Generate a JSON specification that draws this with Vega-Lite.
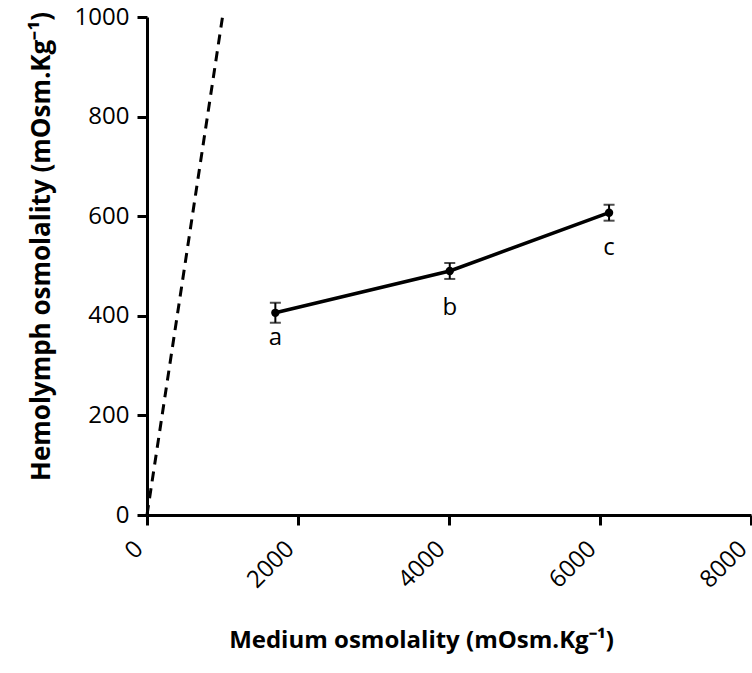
{
  "$schema": "https://vega.github.io/schema/vega-lite/v6.json",
  "width": 604,
  "height": 498,
  "autosize": {"type": "none"},
  "padding": {"left": 147, "top": 17, "right": 1, "bottom": 158},
  "background": "white",
  "config": {
    "view": {"stroke": null},
    "font": "Open Sans",
    "axis": {
      "grid": false,
      "domainColor": "black",
      "domainWidth": 3,
      "tickColor": "black",
      "tickWidth": 3,
      "tickSize": 10,
      "labelColor": "black",
      "labelFontSize": 24,
      "titleColor": "black",
      "titleFontWeight": "bold",
      "labelFlush": false,
      "labelOverlap": false,
      "format": "d"
    }
  },
  "datasets": {
    "obs": [
      {"medium": 1700, "hemo": 406, "lo": 386, "hi": 426, "group": "a", "labelY": 341},
      {"medium": 4010, "hemo": 490, "lo": 474, "hi": 506, "group": "b", "labelY": 401},
      {"medium": 6120, "hemo": 607, "lo": 591, "hi": 623, "group": "c", "labelY": 522}
    ],
    "iso": [
      {"medium": 0, "hemo": 0},
      {"medium": 1000, "hemo": 1000}
    ]
  },
  "encoding": {
    "x": {
      "field": "medium",
      "type": "quantitative",
      "scale": {"domain": [0, 8000], "nice": false},
      "axis": {
        "values": [0, 2000, 4000, 6000, 8000],
        "labelAngle": -45,
        "labelAlign": "right",
        "labelBaseline": "alphabetic",
        "labelPadding": 25,
        "labelOffset": -3,
        "title": "Medium osmolality (mOsm.Kg⁻¹)",
        "titleFontSize": 24,
        "titleX": 274,
        "titleY": 132,
        "titleBaseline": "alphabetic",
        "titleAlign": "center"
      }
    },
    "y": {
      "field": "hemo",
      "type": "quantitative",
      "scale": {"domain": [0, 1000], "nice": false},
      "axis": {
        "values": [0, 200, 400, 600, 800, 1000],
        "labelPadding": 8,
        "title": "Hemolymph osmolality (mOsm.Kg⁻¹)",
        "titleFontSize": 26,
        "titleX": -98,
        "titleY": 229,
        "titleAngle": -90,
        "titleAlign": "center",
        "titleBaseline": "alphabetic"
      }
    }
  },
  "layer": [
    {
      "data": {"name": "iso"},
      "mark": {"type": "line", "strokeDash": [10, 7], "strokeWidth": 3, "color": "black"}
    },
    {
      "data": {"name": "obs"},
      "mark": {"type": "line", "strokeWidth": 3.5, "color": "black"}
    },
    {
      "data": {"name": "obs"},
      "mark": {"type": "rule", "strokeWidth": 2, "color": "black"},
      "encoding": {"y": {"field": "lo", "type": "quantitative"}, "y2": {"field": "hi"}}
    },
    {
      "data": {"name": "obs"},
      "mark": {"type": "tick", "orient": "horizontal", "size": 11, "thickness": 2, "color": "black"},
      "encoding": {"y": {"field": "lo", "type": "quantitative"}}
    },
    {
      "data": {"name": "obs"},
      "mark": {"type": "tick", "orient": "horizontal", "size": 11, "thickness": 2, "color": "black"},
      "encoding": {"y": {"field": "hi", "type": "quantitative"}}
    },
    {
      "data": {"name": "obs"},
      "mark": {"type": "circle", "size": 70, "opacity": 1, "color": "black"}
    },
    {
      "data": {"name": "obs"},
      "mark": {"type": "text", "fontSize": 24, "baseline": "alphabetic", "align": "center", "color": "black"},
      "encoding": {
        "y": {"field": "labelY", "type": "quantitative"},
        "text": {"field": "group"}
      }
    }
  ]
}
